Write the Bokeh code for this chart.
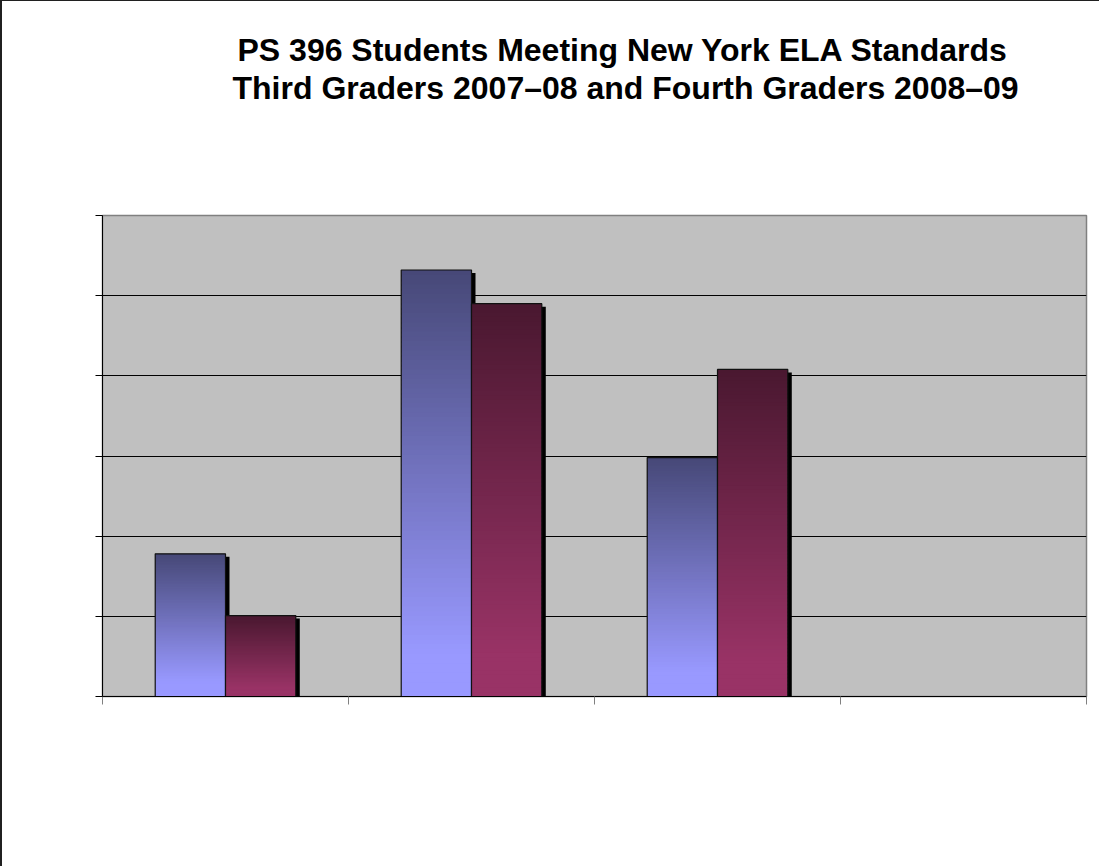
import numpy as np
from bokeh.plotting import figure
from bokeh.models import FixedTicker, Range1d, Title, LinearAxis
from bokeh.embed import file_html
from bokeh.resources import INLINE

# Share of students at each performance level (percent)
levels = ["Level 1", "Level 2", "Level 3", "Level 4"]
third_graders_2007_08 = [17.8, 53.2, 29.8, 0.0]
fourth_graders_2008_09 = [10.1, 49.0, 40.8, 0.0]
y_ticks = [0, 10, 20, 30, 40, 50, 60]
category_edges = [0, 1, 2, 3, 4]

title_line1 = "PS 396 Students Meeting New York ELA Standards"
title_line2 = "Third Graders 2007\u201308 and Fourth Graders 2008\u201309"

# gradient end colours (top, bottom) for each series
series_colors = [("#464877", "#9999ff"), ("#4a1830", "#993366")]

p = figure(width=1099, height=866, output_backend="svg", toolbar_location=None,
           x_range=Range1d(0, 4), y_range=Range1d(0, 60),
           min_border_left=102, min_border_right=13,
           min_border_top=215, min_border_bottom=170)
# chart-area border along the top and left edges
p.styles = {"background-color": "white",
            "box-shadow": "inset 2px 1px 0 0 #202020"}
p.border_fill_color = None
p.background_fill_color = "#c0c0c0"
p.outline_line_color = "#808080"
p.outline_line_width = 1.5

# category layout: two bars per category, Excel-style gap
bar_w = 1 / 3.5
offsets = [0.5 - bar_w, 0.5]
dx = 4 / 246.0   # shadow shift in category units
dy = 3 / 8.0     # shadow shift in value units


def hex_rgb(h):
    h = h.lstrip("#")
    return np.array([int(h[i:i + 2], 16) for i in (0, 2, 4)], dtype=float)


def mix(c0, c1, t):
    c = hex_rgb(c0) * (1 - t) + hex_rgb(c1) * t
    return "#%02x%02x%02x" % tuple(int(round(v)) for v in c)


for s, values in enumerate([third_graders_2007_08, fourth_graders_2008_09]):
    c_top, c_bot = series_colors[s]
    lefts, rights, tops = [], [], []
    for i, v in enumerate(values):
        if v <= 0:
            continue
        lefts.append(i + offsets[s])
        rights.append(i + offsets[s] + bar_w)
        tops.append(v)
    # drop shadow
    p.quad(left=[l + dx for l in lefts], right=[r + dx for r in rights],
           top=[t - dy for t in tops], bottom=-dy,
           fill_color="black", line_color=None)
    # vertical gradient built from thin overlapping strips
    n = 90
    sl, sr, st, sb, sc = [], [], [], [], []
    for l, r, t in zip(lefts, rights, tops):
        edges = np.linspace(t, 0, n + 1)
        for k in range(n):
            frac = (k + 0.5) / n
            sl.append(l)
            sr.append(r)
            st.append(edges[k])
            sb.append(max(edges[k + 1] - 0.25, 0))
            sc.append(mix(c_top, c_bot, min(1.0, frac / 0.9)))
    p.quad(left=sl, right=sr, top=st, bottom=sb, fill_color=sc, line_color=None)
    p.quad(left=lefts, right=rights, top=tops, bottom=0,
           fill_color=None, line_color="#111111", line_width=1.2)

p.xgrid.visible = False
p.ygrid.ticker = FixedTicker(ticks=y_ticks[1:-1])
p.ygrid.grid_line_color = "black"
p.ygrid.grid_line_width = 1

xax = p.below[0]
yax = p.left[0]
xax.ticker = FixedTicker(ticks=category_edges)
yax.ticker = FixedTicker(ticks=y_ticks)
for ax in (xax, yax):
    ax.axis_line_color = "black"
    ax.axis_line_width = 1
    ax.major_tick_in = 0
    ax.minor_tick_line_color = None
    ax.major_label_text_color = None
xax.major_tick_out = 8
xax.major_tick_line_color = "#808080"
yax.major_tick_out = 7
yax.major_tick_line_color = "black"

# blank band between the heading and the plot area
gap = LinearAxis(ticker=FixedTicker(ticks=[2]), axis_line_color=None,
                 major_tick_line_color="white", major_tick_line_alpha=0.01,
                 minor_tick_line_color=None,
                 major_label_text_color=None, major_tick_in=0,
                 major_tick_out=110, minor_tick_out=0)
p.add_layout(gap, "above")

# two-line heading, line nearest the plot added first
for txt, off in [(title_line2, 130), (title_line1, 135)]:
    p.add_layout(Title(text=txt, align="left", offset=off,
                       text_font="Liberation Sans", text_font_size="32px",
                       text_font_style="bold", text_color="black",
                       standoff=0), "above")

open("out.html", "w").write(file_html(p, INLINE))
